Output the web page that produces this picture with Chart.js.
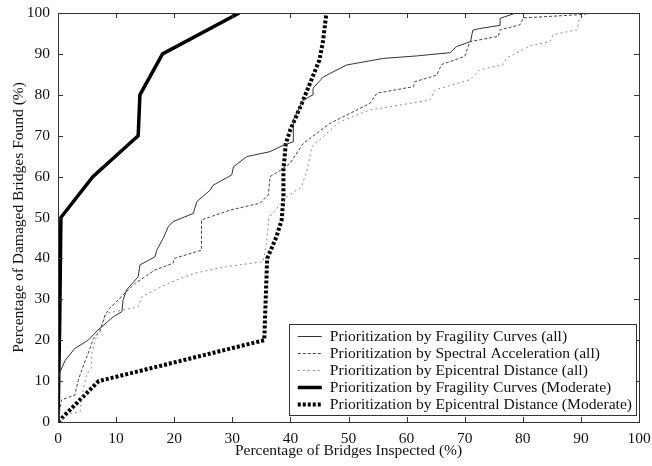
<!DOCTYPE html>
<html lang="en">
<head>
    <meta charset="UTF-8">
    <title>Bridges Inspected vs Damaged Bridges Found</title>
    <script src="https://cdn.jsdelivr.net/npm/chart.js"></script>
    <style>
        body { margin: 0; background: #fff; }
        #wrap { width: 652px; height: 466px; }
    </style>
</head>
<body>
    <div id="wrap"><canvas id="c"></canvas></div>
    <script>
        // [x, y] pairs: % of bridges inspected, % of damaged bridges found
        const fragilityAll = [
            [0, 10], [0.3, 12], [1.2, 15], [2.9, 18], [5.2, 20], [6.9, 22.5], [9.5, 25.7],
            [11, 27], [11.2, 29.8], [11.8, 32.3], [13.8, 35.5], [14.1, 38.4], [16.7, 40.4],
            [17, 42], [18.1, 44.9], [19, 47.8], [19.8, 49], [23.3, 51], [23.9, 53.9],
            [26.2, 56.7], [26.7, 57.9], [29.9, 60.4], [30.2, 62.4], [32.5, 64.9], [36.5, 66.1],
            [38.8, 67.7], [40.5, 68.5], [40.5, 73.8], [42.2, 78.7], [43.9, 80], [43.9, 81.6],
            [45.7, 84.4], [49.7, 87.3], [56, 88.9], [61.7, 89.5], [67.5, 90.3], [68.6, 91.8],
            [71, 93], [71.4, 95.8], [72.6, 96.2], [76.1, 97], [76.1, 98.7], [78.4, 99.8], [79, 100]
        ];
        const spectralAll = [
            [0, 0], [0.6, 5.4], [2.9, 6.6], [3.5, 10.3], [4.4, 13.9], [5.2, 16.8], [6.1, 20.5],
            [7.2, 22.1], [8.1, 26.2], [8.9, 27.8], [11.8, 31.9], [13.3, 33.9], [16.7, 37.2],
            [19.8, 38.8], [20, 40], [24.7, 42], [24.7, 49.4], [29.6, 51.8], [34.8, 53.5],
            [36.2, 55.5], [36.5, 60], [37.9, 61.2], [39.9, 63.2], [42.2, 68.1], [46.8, 73],
            [53.7, 77.9], [54.9, 80.4], [61.2, 82], [61.4, 83.2], [65.2, 84.8], [66, 87.4],
            [70, 89.4], [70.9, 93], [75.8, 94.3], [76.1, 95.9], [79.5, 97.1], [80.1, 98.8],
            [89.8, 99.6], [92, 100]
        ];
        const epicentralAll = [
            [0, 0], [2.1, 2.1], [3.8, 2.5], [4.1, 6.2], [4.9, 11.5], [5.8, 13.5], [5.8, 16.8],
            [6.7, 21.3], [7.5, 23.7], [8.4, 26.6], [12.7, 27.8], [13.8, 28.2], [14.4, 30.6],
            [16.7, 32.3], [19.6, 34.3], [23.6, 36.4], [29, 38], [35.3, 39.2], [35.9, 43.7],
            [36.3, 50], [39.3, 55], [41.9, 57.5], [42.8, 61.2], [43.7, 67.3], [48.5, 73.4],
            [53.7, 76.3], [64, 78.7], [64.9, 81.2], [70.9, 83.7], [72.6, 86.1], [76.6, 87.4],
            [77.2, 89], [81.2, 91.9], [84.7, 93.1], [85.2, 94.7], [89.3, 95.9], [89.8, 98.8],
            [91, 100]
        ];
        const fragilityModerate = [
            [0, 0], [0.3, 25], [0.5, 50], [6, 60], [13.8, 70], [14.1, 80], [18, 90], [31.2, 100]
        ];
        const epicentralModerate = [
            [0, 0], [7, 10], [35.5, 20], [36, 40], [37.6, 45.3], [38.5, 49.4], [38.8, 55],
            [38.8, 61.6], [39.2, 68], [40, 71.5], [42, 78], [44, 85], [45, 88.5], [45.6, 93],
            [46.2, 100]
        ];
        const axisTicks = [0, 10, 20, 30, 40, 50, 60, 70, 80, 90, 100];

        const FONT = 'Liberation Serif, Times New Roman, serif';
        const toXY = arr => arr.map(p => ({ x: p[0], y: p[1] }));

        function series(label, data, color, width, dash) {
            return {
                label: label,
                data: toXY(data),
                borderColor: color,
                borderWidth: width,
                borderDash: dash,
                borderCapStyle: 'butt',
                borderJoinStyle: 'miter',
                pointRadius: 0,
                tension: 0,
                fill: false
            };
        }

        // box round the plot with inward tick marks, like the original figure
        const frameTicks = {
            id: 'frameTicks',
            afterDraw(chart) {
                const { ctx, chartArea: a, scales } = chart;
                ctx.save();
                ctx.strokeStyle = '#333';
                ctx.lineWidth = 1;
                ctx.strokeRect(a.left + 0.5, a.top + 0.5, a.right - a.left, a.bottom - a.top);
                ctx.beginPath();
                axisTicks.forEach(v => {
                    const px = Math.round(scales.x.getPixelForValue(v)) + 0.5;
                    ctx.moveTo(px, a.bottom); ctx.lineTo(px, a.bottom - 5);
                    ctx.moveTo(px, a.top); ctx.lineTo(px, a.top + 5);
                    const py = Math.round(scales.y.getPixelForValue(v)) + 0.5;
                    ctx.moveTo(a.left, py); ctx.lineTo(a.left + 5, py);
                    ctx.moveTo(a.right, py); ctx.lineTo(a.right - 5, py);
                });
                ctx.stroke();
                ctx.restore();
            }
        };

        // legend box in the lower right corner of the plot
        const boxLegend = {
            id: 'boxLegend',
            afterDraw(chart) {
                const { ctx, chartArea: a } = chart;
                const sets = chart.data.datasets;
                ctx.save();
                ctx.font = '15.6px ' + FONT;
                const textW = Math.max(...sets.map(d => ctx.measureText(d.label).width));
                const rowH = 17;
                const w = 41 + textW + 4;
                const h = rowH * sets.length + 6;
                const right = a.right - 3;
                const bottom = a.bottom - 7;
                const left = right - w;
                const top = bottom - h;
                ctx.fillStyle = '#fff';
                ctx.fillRect(left, top, w, h);
                ctx.strokeStyle = '#333';
                ctx.lineWidth = 1;
                ctx.setLineDash([]);
                ctx.strokeRect(Math.round(left) + 0.5, Math.round(top) + 0.5, Math.round(w), Math.round(h));
                ctx.textBaseline = 'middle';
                sets.forEach((d, i) => {
                    const y = Math.round(top + 3 + rowH * (i + 0.5)) + 0.5;
                    ctx.beginPath();
                    ctx.strokeStyle = d.borderColor;
                    ctx.lineWidth = d.borderWidth;
                    ctx.lineCap = 'butt';
                    ctx.setLineDash(d.borderDash || []);
                    ctx.moveTo(left + 9, y);
                    ctx.lineTo(left + 33, y);
                    ctx.stroke();
                    ctx.fillStyle = '#111';
                    ctx.fillText(d.label, left + 41, y);
                });
                ctx.restore();
            }
        };

        new Chart(document.getElementById('c'), {
            type: 'line',
            data: {
                datasets: [
                    series('Prioritization by Fragility Curves (all)', fragilityAll, '#333', 1, []),
                    series('Prioritization by Spectral Acceleration (all)', spectralAll, '#444', 1, [3, 2]),
                    series('Prioritization by Epicentral Distance (all)', epicentralAll, '#8a8a8a', 1, [2, 3]),
                    series('Prioritization by Fragility Curves (Moderate)', fragilityModerate, '#000', 3.5, []),
                    series('Prioritization by Epicentral Distance (Moderate)', epicentralModerate, '#000', 4, [3, 2])
                ]
            },
            options: {
                responsive: true,
                maintainAspectRatio: false,
                animation: false,
                layout: { padding: { top: 13, right: 13, left: 10, bottom: 6 } },
                plugins: {
                    legend: { display: false },
                    tooltip: { enabled: false }
                },
                scales: {
                    x: {
                        type: 'linear',
                        min: 0,
                        max: 100,
                        afterBuildTicks: s => { s.ticks = axisTicks.map(v => ({ value: v })); },
                        afterFit: s => { s.height = 38; },
                        grid: { display: false },
                        border: { display: false },
                        ticks: { color: '#111', font: { family: FONT, size: 15.5 }, padding: 0, maxRotation: 0 },
                        title: {
                            display: true,
                            text: 'Percentage of Bridges Inspected (%)',
                            color: '#111',
                            font: { family: FONT, size: 15.5 },
                            padding: { top: 0, bottom: 0 }
                        }
                    },
                    y: {
                        min: 0,
                        max: 100,
                        afterBuildTicks: s => { s.ticks = axisTicks.map(v => ({ value: v })); },
                        afterFit: s => { s.width = 48; },
                        grid: { display: false },
                        border: { display: false },
                        ticks: { color: '#111', font: { family: FONT, size: 15.5 }, padding: 0 },
                        title: {
                            display: true,
                            text: 'Percentage of Damaged Bridges Found (%)',
                            color: '#111',
                            font: { family: FONT, size: 15.5 },
                            padding: { top: 0, bottom: 0 }
                        }
                    }
                }
            },
            plugins: [frameTicks, boxLegend]
        });
    </script>
</body>
</html>
